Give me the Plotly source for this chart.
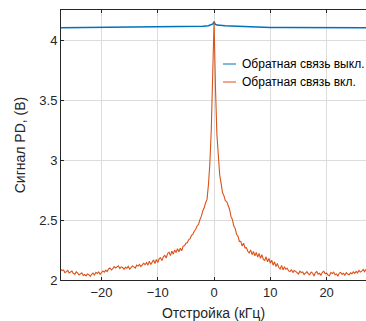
import plotly.graph_objects as go

# ---- data ----
# Feedback OFF (blue)
off_x = [-27.2, -25, -22.5, -20, -17.5, -15, -12.5, -10, -8, -6, -4, -2, -1, -0.5, -0.2, 0,
         0.2, 0.5, 1, 2, 3, 4, 5, 6, 8, 10, 12.5, 15, 17.5, 20, 22.5, 25, 27]
off_y = [4.110, 4.111, 4.109, 4.110, 4.111, 4.110, 4.112, 4.114, 4.116, 4.117, 4.119, 4.122,
         4.126, 4.132, 4.142, 4.160, 4.140, 4.132, 4.128, 4.126, 4.124, 4.122, 4.118, 4.116,
         4.114, 4.112, 4.111, 4.110, 4.110, 4.109, 4.110, 4.110, 4.110]

# Feedback ON (orange)
on_x = [
    -27.25, -27.0, -26.75, -26.5, -26.25, -26.0, -25.75, -25.5, -25.25, -25.0,
    -24.75, -24.5, -24.25, -24.0, -23.75, -23.5, -23.25, -23.0, -22.75, -22.5,
    -22.25, -22.0, -21.75, -21.5, -21.25, -21.0, -20.75, -20.5, -20.25, -20.0,
    -19.75, -19.5, -19.25, -19.0, -18.75, -18.5, -18.25, -18.0, -17.75, -17.5,
    -17.25, -17.0, -16.75, -16.5, -16.25, -16.0, -15.75, -15.5, -15.25, -15.0,
    -14.75, -14.5, -14.25, -14.0, -13.75, -13.5, -13.25, -13.0, -12.75, -12.5,
    -12.25, -12.0, -11.75, -11.5, -11.25, -11.0, -10.75, -10.5, -10.25, -10.0,
    -9.75, -9.5, -9.25, -9.0, -8.75, -8.5, -8.25, -8.0, -7.75, -7.5,
    -7.25, -7.0, -6.75, -6.5, -6.25, -6.0, -5.75, -5.5, -5.25, -5.0,
    -4.75, -4.5, -4.25, -4.0, -3.75, -3.5, -3.25, -3.0, -2.75, -2.5,
    -2.25, -2.0, -1.75, -1.5, -1.25, -1.0, -0.75, -0.5, -0.25, 0.0,
    0.25, 0.5, 0.75, 1.0, 1.25, 1.5, 1.75, 2.0, 2.25, 2.5,
    2.75, 3.0, 3.25, 3.5, 3.75, 4.0, 4.25, 4.5, 4.75, 5.0,
    5.25, 5.5, 5.75, 6.0, 6.25, 6.5, 6.75, 7.0, 7.25, 7.5,
    7.75, 8.0, 8.25, 8.5, 8.75, 9.0, 9.25, 9.5, 9.75, 10.0,
    10.25, 10.5, 10.75, 11.0, 11.25, 11.5, 11.75, 12.0, 12.25, 12.5,
    12.75, 13.0, 13.25, 13.5, 13.75, 14.0, 14.25, 14.5, 14.75, 15.0,
    15.25, 15.5, 15.75, 16.0, 16.25, 16.5, 16.75, 17.0, 17.25, 17.5,
    17.75, 18.0, 18.25, 18.5, 18.75, 19.0, 19.25, 19.5, 19.75, 20.0,
    20.25, 20.5, 20.75, 21.0, 21.25, 21.5, 21.75, 22.0, 22.25, 22.5,
    22.75, 23.0, 23.25, 23.5, 23.75, 24.0, 24.25, 24.5, 24.75, 25.0,
    25.25, 25.5, 25.75, 26.0, 26.25, 26.5, 26.75, 27.0,
]
on_y = [
    2.090, 2.078, 2.084, 2.062, 2.070, 2.080, 2.058, 2.066, 2.074, 2.054,
    2.048, 2.068, 2.060, 2.042, 2.052, 2.060, 2.038, 2.046, 2.034, 2.050,
    2.044, 2.030, 2.048, 2.058, 2.042, 2.064, 2.054, 2.068, 2.048, 2.060,
    2.076, 2.066, 2.082, 2.070, 2.092, 2.100, 2.084, 2.096, 2.112, 2.100,
    2.108, 2.118, 2.096, 2.110, 2.104, 2.090, 2.106, 2.098, 2.114, 2.092,
    2.104, 2.118, 2.110, 2.100, 2.124, 2.116, 2.130, 2.112, 2.126, 2.140,
    2.128, 2.146, 2.124, 2.158, 2.130, 2.154, 2.168, 2.138, 2.172, 2.146,
    2.178, 2.186, 2.162, 2.196, 2.206, 2.184, 2.222, 2.232, 2.204, 2.242,
    2.216, 2.250, 2.230, 2.262, 2.236, 2.266, 2.244, 2.282, 2.286, 2.308,
    2.312, 2.338, 2.346, 2.374, 2.384, 2.410, 2.424, 2.454, 2.466, 2.506,
    2.534, 2.580, 2.604, 2.646, 2.674, 2.796, 2.972, 3.250, 3.630, 4.160,
    3.610, 3.220, 3.050, 2.880, 2.808, 2.732, 2.706, 2.664, 2.656, 2.620,
    2.592, 2.532, 2.506, 2.454, 2.432, 2.382, 2.366, 2.322, 2.324, 2.284,
    2.308, 2.268, 2.270, 2.240, 2.226, 2.252, 2.212, 2.238, 2.202, 2.230,
    2.192, 2.222, 2.182, 2.212, 2.172, 2.164, 2.194, 2.152, 2.180, 2.140,
    2.166, 2.124, 2.152, 2.112, 2.138, 2.104, 2.092, 2.122, 2.084, 2.110,
    2.090, 2.098, 2.076, 2.070, 2.088, 2.062, 2.080, 2.072, 2.056, 2.050,
    2.074, 2.062, 2.068, 2.046, 2.058, 2.070, 2.052, 2.044, 2.066, 2.058,
    2.034, 2.062, 2.070, 2.048, 2.056, 2.040, 2.064, 2.072, 2.052, 2.058,
    2.042, 2.036, 2.062, 2.054, 2.066, 2.044, 2.050, 2.032, 2.058, 2.064,
    2.046, 2.056, 2.040, 2.062, 2.050, 2.044, 2.060, 2.052, 2.068, 2.056,
    2.072, 2.060, 2.080, 2.066, 2.074, 2.088, 2.070, 2.090,
]

x_ticks = [-20, -10, 0, 10, 20]
y_ticks = [2, 2.5, 3, 3.5, 4]
y_tick_text = ["2", "2.5", "3", "3.5", "4"]

names = ["Обратная связь выкл.", "Обратная связь вкл."]
colors = ["#0072BD", "#D95319"]

FONT = "Liberation Sans, Arial, sans-serif"
AX = "#262626"
GRID = "#dcdcdc"

# plot-area geometry (pixels)
L, R, T, B, W, H = 61, 0, 10, 41, 366, 321
PW, PH = W - L - R, H - T - B


def px_x(px):
    return (px - L) / PW


def px_y(py):
    return (H - B - py) / PH


fig = go.Figure()
fig.add_trace(go.Scatter(x=off_x, y=off_y, mode="lines", name=names[0],
                         line=dict(color=colors[0], width=1.5), showlegend=False))
fig.add_trace(go.Scatter(x=on_x, y=on_y, mode="lines", name=names[1],
                         line=dict(color=colors[1], width=1.1), showlegend=False))

# legend box (white, covers grid lines) + entries
fig.add_shape(type="rect", xref="paper", yref="paper", x0=px_x(217), x1=1.0,
              y0=px_y(91), y1=px_y(56), fillcolor="white", line=dict(width=0),
              layer="between")
for i, (nm, c) in enumerate(zip(names, colors)):
    py = 64 + 18 * i
    fig.add_shape(type="line", xref="paper", yref="paper", x0=px_x(223), x1=px_x(236),
                  y0=px_y(py), y1=px_y(py), line=dict(color=c, width=1), layer="above")
    fig.add_annotation(xref="paper", yref="paper", x=px_x(240), y=px_y(py),
                       xanchor="left", yanchor="middle", text=nm, showarrow=False,
                       font=dict(family=FONT, size=12, color="#000000"))

fig.update_layout(
    width=W, height=H,
    margin=dict(l=L, r=R, t=T, b=B),
    paper_bgcolor="white", plot_bgcolor="white",
    font=dict(family=FONT, size=13, color=AX),
    showlegend=False,
)
fig.update_xaxes(
    range=[-27.2, 27.0], tickvals=x_ticks, ticks="inside", ticklen=3, tickcolor=AX,
    showline=True, linecolor=AX, linewidth=1, mirror="ticks",
    showgrid=True, gridcolor=GRID, gridwidth=1, zeroline=False,
    tickfont=dict(size=13, color=AX),
    title=dict(text="Отстройка (кГц)", font=dict(size=14, color=AX), standoff=10),
)
fig.update_yaxes(
    range=[2, 4.258], tickvals=y_ticks, ticktext=y_tick_text, ticks="inside", ticklen=3,
    tickcolor=AX, showline=True, linecolor=AX, linewidth=1, mirror=False,
    showgrid=True, gridcolor=GRID, gridwidth=1, zeroline=False,
    tickfont=dict(size=13, color=AX),
    title=dict(text="Сигнал PD, (В)", font=dict(size=14, color=AX), standoff=10),
)

fig.write_html("out.html")
